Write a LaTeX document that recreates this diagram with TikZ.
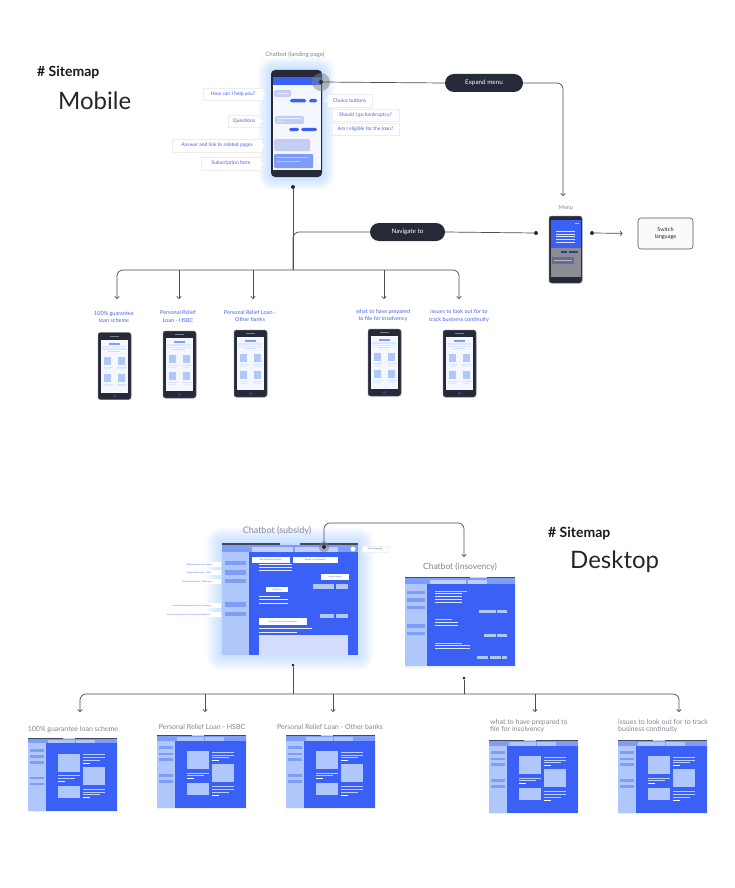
\documentclass[tikz,border=0pt]{standalone}
\usepackage{fontspec}
\setmainfont{Lato}
\usetikzlibrary{arrows.meta,shadows}
\definecolor{dark}{HTML}{262938}
\definecolor{linec}{HTML}{4B4D58}
\definecolor{sblue}{HTML}{3B60F6}
\definecolor{lblue}{HTML}{B0C7FB}
\definecolor{mblue}{HTML}{7E9DF8}
\definecolor{tblue}{HTML}{4A63E8}
\definecolor{gtext}{HTML}{85858E}
\definecolor{glowc}{HTML}{8CC4FF}
\definecolor{bub}{HTML}{C3CEF2}
\definecolor{pale}{HTML}{F4F7FE}
\definecolor{navy}{HTML}{2B3F8C}
\definecolor{subbox}{HTML}{D3DCFB}
\definecolor{menugray}{HTML}{8C8C94}
\newcommand\fsz[1]{\fontsize{#1}{#1}\selectfont}
\tikzset{
  conn/.style={draw=linec, line width=0.7pt},
  arr/.style={conn, -{Straight Barb[length=2.2pt,width=4.5pt]}},
  dotc/.style={circle, fill=dark, inner sep=0pt, minimum size=4pt},
  pill/.style={fill=dark, rounded corners=9pt, text=white, font=\fsz{6.3}, minimum height=18pt, inner sep=0pt},
  callout/.style={fill=white, draw=black!7, line width=0.4pt, text=tblue, font=\fsz{5}, inner sep=0pt, minimum height=12pt},
  tinybox/.style={fill=white, text=tblue, font=\fsz{2}, inner sep=0pt, minimum height=5pt},
  mlab/.style={text=tblue, font=\fsz{5.5}, align=center, inner sep=0pt},
  dlab/.style={text=gtext, font=\fsz{7}, inner sep=0pt},
  heading/.style={font=\bfseries\fsz{14}, text=black!90, inner sep=0pt, anchor=west},
  bigtitle/.style={font=\fsz{24}, text=black!85, inner sep=0pt, anchor=west},
  phonebody/.style={fill=dark, inner sep=0pt, rounded corners=2.5pt, draw=dark!70, line width=0.5pt},
}
\newcommand\mobphone[3]{%
\begin{scope}[shift={(#1,#2)}]
 \node[phonebody, minimum width=33pt, minimum height=67pt] (#3) at (16.5,33.5) {};
 \fill[pale] (3,7) rectangle (30,60);
 \fill[dark!60] (12,3.2) rectangle (21,4);
 \fill[mblue] (11,10) rectangle (22,12);
 \fill[lblue!45] (4,13) rectangle (28,14.5);
 \fill[lblue!45] (4,15.5) rectangle (28,17);
 \fill[lblue!60] (10,18) rectangle (22,19);
 \foreach \yy in {24,41}{
   \fill[lblue] (6,\yy) rectangle (13,\yy+8);
   \fill[lblue] (20,\yy) rectangle (27,\yy+8);
   \fill[lblue!50] (4.5,\yy+10) rectangle (14.5,\yy+10.8);
   \fill[lblue!50] (18.5,\yy+10) rectangle (28.5,\yy+10.8);
   \fill[lblue!40] (6,\yy+11.6) rectangle (13,\yy+12.3);
   \fill[lblue!40] (20,\yy+11.6) rectangle (27,\yy+12.3);
 }
 \fill[navy] (16.5,63.5) circle (1.8pt);
\end{scope}}
\newcommand\deskscreen[3]{%
\begin{scope}[shift={(#1,#2)}]
 \fill[black, opacity=0.06] (-0.5,0.5) rectangle (89.5,74.3);
 \node[fill=sblue, minimum width=89pt, minimum height=73pt, inner sep=0pt] (#3) at (44.5,36.5) {};
 \fill[lblue] (0,5.5) rectangle (18,73);
 \fill[mblue] (0,0) rectangle (89,5.5);
 \fill[dark!85] (0,0) rectangle (89,1);
 \fill[lblue!70] (35,0) rectangle (47,1);
 \fill[lblue] (20,2) rectangle (47,5.5);
 \fill[lblue] (48,2) rectangle (67,5.5);
 \foreach \a/\b in {11.3/14,17.6/20.3,23.3/26,39/41.6,45/47.6}{\fill[mblue] (1.7,\a) rectangle (15.7,\b);}
 \fill[lblue] (30,16) rectangle (52,34);
 \fill[lblue] (55,29) rectangle (77,47);
 \fill[lblue] (30,48) rectangle (52,60);
 \foreach \yy in {16.7,19.7,51.3,54.3}{\fill[lblue!85] (55,\yy) rectangle (77,\yy+0.9);}
 \foreach \yy in {22,56.7}{\fill[lblue!85] (55,\yy) rectangle (72,\yy+0.9);}
 \foreach \yy in {25,59.7}{\fill[white] (55,\yy) rectangle (62,\yy+0.9);}
 \fill[lblue!85] (30,37.5) rectangle (52,38.4);
 \fill[lblue!85] (30,40.2) rectangle (47,41.1);
 \fill[white] (30,43) rectangle (37,43.9);
\end{scope}}
\begin{document}
\begin{tikzpicture}[x=1pt,y=-1pt]
\useasboundingbox (0,0) rectangle (734,888);
\fill[white] (0,0) rectangle (734,888);

%================ MOBILE =================
\node[heading] (mhead) at (37,72) {\# Sitemap};
\node[bigtitle] (mtitle) at (58,101) {Mobile};
\node[text=gtext, font=\fsz{6}, inner sep=0pt] (chatlab) at (295,55) {Chatbot (landing page)};

% glow
\foreach \i in {1,...,10}{
  \fill[glowc, opacity=0.05, rounded corners=4pt+\i*1.2pt] (271-\i*1.3,70-\i*1.3) rectangle (322+\i*1.3,177+\i*1.3);
}
\node[fill=dark, inner sep=0pt, rounded corners=4pt, minimum width=51pt, minimum height=107pt] (chat) at (296.5,123.5) {};
\fill[sblue] (272.5,77) rectangle (320.5,85);
\fill[pale] (272.5,85) rectangle (320.5,170);
\fill[bub, rounded corners=1.5pt] (274,90) rectangle (291,97);
\fill[white!70!bub] (277,93) rectangle (288,94);
\fill[sblue, rounded corners=1.5pt] (290,99) rectangle (306,102.5);
\fill[sblue, rounded corners=1.5pt] (309,99) rectangle (317,102.5);
\fill[bub, rounded corners=1.5pt] (275,116) rectangle (304,124);
\fill[white!60!bub] (277,118.5) rectangle (301,119.3);
\fill[white!60!bub] (277,121) rectangle (283,121.8);
\fill[sblue, rounded corners=1.5pt] (289,128) rectangle (299,131);
\fill[sblue, rounded corners=1.5pt] (301,128) rectangle (317,131);
\fill[bub, rounded corners=1.5pt] (274,139) rectangle (310,151);
\fill[white!50!bub!80!gray] (277,142.5) rectangle (307,143.5);
\fill[white!50!bub!80!gray] (277,146) rectangle (281,147);
\fill[mblue, rounded corners=1pt] (274,154) rectangle (313,168);
\fill[lblue] (277,157) rectangle (309,158.3);
\fill[lblue] (277,160.5) rectangle (300,161.5);
\fill[gray, opacity=0.5] (321,82) circle (9pt);
\node[dotc] (chatmenu) at (321,82) {};
\node[dotc] (chatdot) at (293,187) {};

% callouts
\node[callout, minimum width=60pt] (hc) at (233,94) {How can I help you?};
\node[callout, minimum width=32pt] (qu) at (244,121) {Questions};
\node[callout, minimum width=90pt, minimum height=13pt] (an) at (217,145.5) {Answer and link to related pages};
\node[callout, minimum width=60pt, minimum height=13pt] (sf) at (231,163.5) {Subscription form};
\node[callout, minimum width=45pt, minimum height=13pt] (cb) at (349.5,100.5) {Choice buttons};
\node[callout, minimum width=67pt] (sb) at (365.5,115) {Should I go bankruptcy?};
\node[callout, minimum width=67pt] (el) at (365.5,129) {Am I eligible for the loan?};
\foreach \n in {hc,qu,an,sf}{
  \fill[white] ([yshift=2pt]\n.east) -- ([xshift=2.5pt]\n.east) -- ([yshift=-2pt]\n.east) -- cycle;
}
\fill[white] ([yshift=2pt]cb.west) -- ([xshift=-2.5pt]cb.west) -- ([yshift=-2pt]cb.west) -- cycle;

% expand menu
\node[pill, minimum width=78pt] (expand) at (484,83) {Expand menu};
\coordinate (menuin) at (563,196);
\draw[conn] (chatmenu) -- (expand.west);
\draw[arr, rounded corners=6pt] (expand.east) -| (menuin);

% menu phone
\node[text=gtext, font=\fsz{5.5}, inner sep=0pt] (menulab) at (566,208) {Menu};
\node[phonebody, minimum width=33pt, minimum height=67pt] (menu) at (565.5,249.5) {};
\fill[sblue] (550.5,220) rectangle (580.5,248);
\fill[menugray] (550.5,248) rectangle (580.5,277);
\foreach \yy in {231,233.7,236.4,239.1,241.8}{\fill[white!85!sblue] (556,\yy) rectangle (575,\yy+0.8);}
\fill[white!60!sblue] (575,222.5) rectangle (579,223.3);
\fill[navy] (561,250.5) rectangle (567,252.5);
\fill[navy] (569,250.5) rectangle (578,252.5);
\fill[navy!40!menugray] (552,257) rectangle (574,264);
\fill[menugray!60!white] (554,259.5) rectangle (572,260.3);
\node[dotc] (menudotL) at (536,233) {};
\node[dotc] (menudotR) at (592,233) {};
\node[draw=dark!80, line width=0.6pt, fill=black!2, rounded corners=3pt, minimum width=55pt, minimum height=31pt, inner sep=0pt, align=center, font=\fsz{5.5}, text=dark] (switch) at (665.5,233.5) {Switch\\[1.5pt]language};
\draw[arr, shorten >=15pt] (menudotR) -- (switch.west);

% navigate
\node[pill, minimum width=75pt] (navigate) at (407.5,232) {Navigate to};
\coordinate (mjunc) at (293,270);
\draw[conn] (menudotL) -- (navigate.east);
\draw[conn, rounded corners=6pt] (navigate.west) -| (mjunc);
\draw[conn] (chatdot) -- (mjunc);
\coordinate (mc1) at (117,299);
\coordinate (mc2) at (179,299);
\coordinate (mc3) at (253,299);
\coordinate (mc4) at (384,299);
\coordinate (mc5) at (459,299);
\draw[arr, rounded corners=6pt] (mjunc) -| (mc1);
\draw[arr, rounded corners=6pt] (mjunc) -| (mc5);
\foreach \c in {mc2,mc3,mc4}{\draw[arr] (mjunc -| \c) -- (\c);}

\node[mlab] (ml1) at (114,317) {100\% guarantee\\[2pt]loan scheme};
\node[mlab] (ml2) at (178,316.5) {Personal Relief\\[2pt]Loan - HSBC};
\node[mlab] (ml3) at (250,316) {Personal Relief Loan -\\[2pt]Other banks};
\node[mlab] (ml4) at (383,315.5) {what to have prepared\\[2pt]to file for insolvency};
\node[mlab] (ml5) at (459,316) {issues to look out for to\\[2pt]track business continuity};

\mobphone{98}{332.5}{mp1}
\mobphone{163}{331}{mp2}
\mobphone{234}{330}{mp3}
\mobphone{368}{329}{mp4}
\mobphone{443}{330}{mp5}

%================ DESKTOP =================
\node[heading] (dhead) at (548,533) {\# Sitemap};
\node[bigtitle] (dtitle) at (570,562) {Desktop};
\node[text=gtext, font=\fsz{9}, inner sep=0pt] (sublab) at (277,531) {Chatbot (subsidy)};

% subsidy glow
\foreach \i in {1,...,12}{
  \fill[glowc, opacity=0.045, rounded corners=\i*1.3pt] (222-\i*1.3,543-\i*1.3) rectangle (358+\i*1.3,655+\i*1.3);
}
\node[fill=sblue, minimum width=136pt, minimum height=112pt, inner sep=0pt] (subsidy) at (290,599) {};
\fill[mblue] (222,543) rectangle (358,552);
\fill[dark!85] (222,543) rectangle (358,544.5);
\fill[lblue!70] (280,543) rectangle (300,544.5);
\fill[lblue!80] (252,546.5) rectangle (293,552);
\fill[lblue!80] (295,546.5) rectangle (338,552);
\fill[white] (353,549) circle (2.5pt);
\fill[lblue] (222,552) rectangle (249,655);
\foreach \a/\b in {561/565,570/575,579/583,602/607,612/616}{\fill[mblue] (225,\a) rectangle (246,\b);}
\node[tinybox, minimum width=44pt] (sl1) at (199,564.5) {100\% guarantee loan scheme};
\node[tinybox, minimum width=44pt] (sl2) at (199,572.5) {Personal Relief Loan - HSBC};
\node[tinybox, minimum width=47pt] (sl3) at (197.5,581.5) {Personal Relief Loan - Other banks};
\node[tinybox, minimum width=58pt] (sl4) at (192,605.5) {what to have prepared to file for insolvency};
\node[tinybox, minimum width=65pt] (sl5) at (188.5,614.5) {issues to look out for to track business continuity};
\node[tinybox, minimum width=38pt, minimum height=6pt] (sq1) at (271,560) {Am I eligible for the loan?};
\node[tinybox, minimum width=45pt, minimum height=6pt] (sq2) at (315.5,560) {Should I go bankruptcy?};
\foreach \yy in {564,567,570}{\fill[white!90!sblue] (259,\yy) rectangle (292,\yy+1);}
\node[tinybox, minimum width=28pt, minimum height=6pt] (scb) at (335,577) {Choice buttons};
\fill[lblue] (313,584) rectangle (334,589);
\fill[lblue] (336,584) rectangle (348,589);
\node[tinybox, minimum width=22pt, minimum height=5pt] (squ) at (277,589.5) {Questions};
\fill[white!90!sblue] (259,596) rectangle (280,597);
\fill[white!90!sblue] (259,599) rectangle (288,600);
\fill[white!90!sblue] (259,602.5) rectangle (288,603.5);
\fill[lblue] (320,614) rectangle (334,618);
\fill[lblue] (336,614) rectangle (348,618);
\node[tinybox, minimum width=48pt, minimum height=7pt] (san) at (283,621.5) {Answer and link to related pages};
\fill[white!90!sblue] (259,628) rectangle (312,629);
\fill[white!90!sblue] (259,632) rectangle (297,633);
\fill[subbox] (259,635) rectangle (348,655);
\node[tinybox, minimum width=26pt, minimum height=6pt, draw=black!6, line width=0.3pt] (ssw) at (375,549) {Switch language};
\fill[gray, opacity=0.5] (324,547) circle (5.5pt);
\node[dotc] (subdot) at (324,547) {};
\node[dotc, minimum size=3pt] (subdotb) at (293,665) {};

% insolvency
\node[text=gtext, font=\fsz{8.5}, inner sep=0pt] (inslab) at (460,567) {Chatbot (insovency)};
\fill[black, opacity=0.06] (404.5,577.5) rectangle (515.5,667.5);
\node[fill=sblue, minimum width=110pt, minimum height=89pt, inner sep=0pt] (insolv) at (460,621.5) {};
\fill[mblue] (405,577) rectangle (515,584);
\fill[dark!85] (405,577) rectangle (515,578);
\fill[lblue!70] (470,577) rectangle (487,578);
\fill[lblue!80] (430,579.5) rectangle (466,584);
\fill[lblue!80] (468,579.5) rectangle (487,584);
\fill[lblue] (405,584) rectangle (427,666);
\foreach \a/\b in {591/594,598/602,606/609,624/628,632/635}{\fill[mblue] (407,\a) rectangle (425,\b);}
\fill[lblue!80] (435,590.6) rectangle (467,591.4);
\foreach \yy in {593.4,596.1,598.8,601.5}{\fill[white!85!sblue] (435,\yy) rectangle (462,\yy+0.8);}
\fill[lblue] (479,610) rectangle (496,613);
\fill[lblue] (497,610) rectangle (507,613);
\fill[lblue!80] (435,618.6) rectangle (452,619.4);
\foreach \yy in {621.6,624.6}{\fill[white!85!sblue] (435,\yy) rectangle (458,\yy+0.8);}
\fill[lblue] (484,634) rectangle (496,637);
\fill[lblue] (497,634) rectangle (507,637);
\fill[lblue!80] (435,642.6) rectangle (462,643.4);
\foreach \yy in {645.1,647.6}{\fill[white!85!sblue] (435,\yy) rectangle (470,\yy+0.8);}
\fill[lblue] (477,656) rectangle (488,659);
\fill[lblue] (490,656) rectangle (501,659);
\fill[lblue] (502,656) rectangle (507,659);
\node[dotc, minimum size=3pt] (insdotb) at (464,678) {};

% desktop connectors
\coordinate (dtop) at (464,523);
\coordinate (insoin) at (464,557);
\draw[arr, rounded corners=6pt] (subdot) |- (dtop) -- (insoin);
\coordinate (djunc) at (293,694);
\draw[conn] (subdotb) -- (djunc);
\draw[conn] (insdotb) -- (insdotb |- djunc);
\coordinate (dc1) at (80,712);
\coordinate (dc2) at (205,712);
\coordinate (dc3) at (333,712);
\coordinate (dc4) at (535,712);
\coordinate (dc5) at (679,712);
\draw[arr, rounded corners=6pt] (djunc) -| (dc1);
\draw[arr, rounded corners=6pt] (djunc) -| (dc5);
\foreach \c in {dc2,dc3,dc4}{\draw[arr] (djunc -| \c) -- (\c);}

\node[dlab] (dl1) at (73,730) {100\% guarantee loan scheme};
\node[dlab] (dl2) at (202,727) {Personal Relief Loan - HSBC};
\node[dlab] (dl3) at (330,727) {Personal Relief Loan - Other banks};
\node[dlab, align=left, anchor=north west] (dl4) at (490,719) {what to have prepared to\\[0.5pt]file for insolvency};
\node[dlab, align=left, anchor=north west] (dl5) at (618,719) {issues to look out for to track\\[0.5pt]business continuity};

\deskscreen{28.3}{737.7}{ds1}
\deskscreen{157}{735}{ds2}
\deskscreen{286}{735}{ds3}
\deskscreen{489}{740}{ds4}
\deskscreen{618}{740}{ds5}
\end{tikzpicture}
\end{document}
